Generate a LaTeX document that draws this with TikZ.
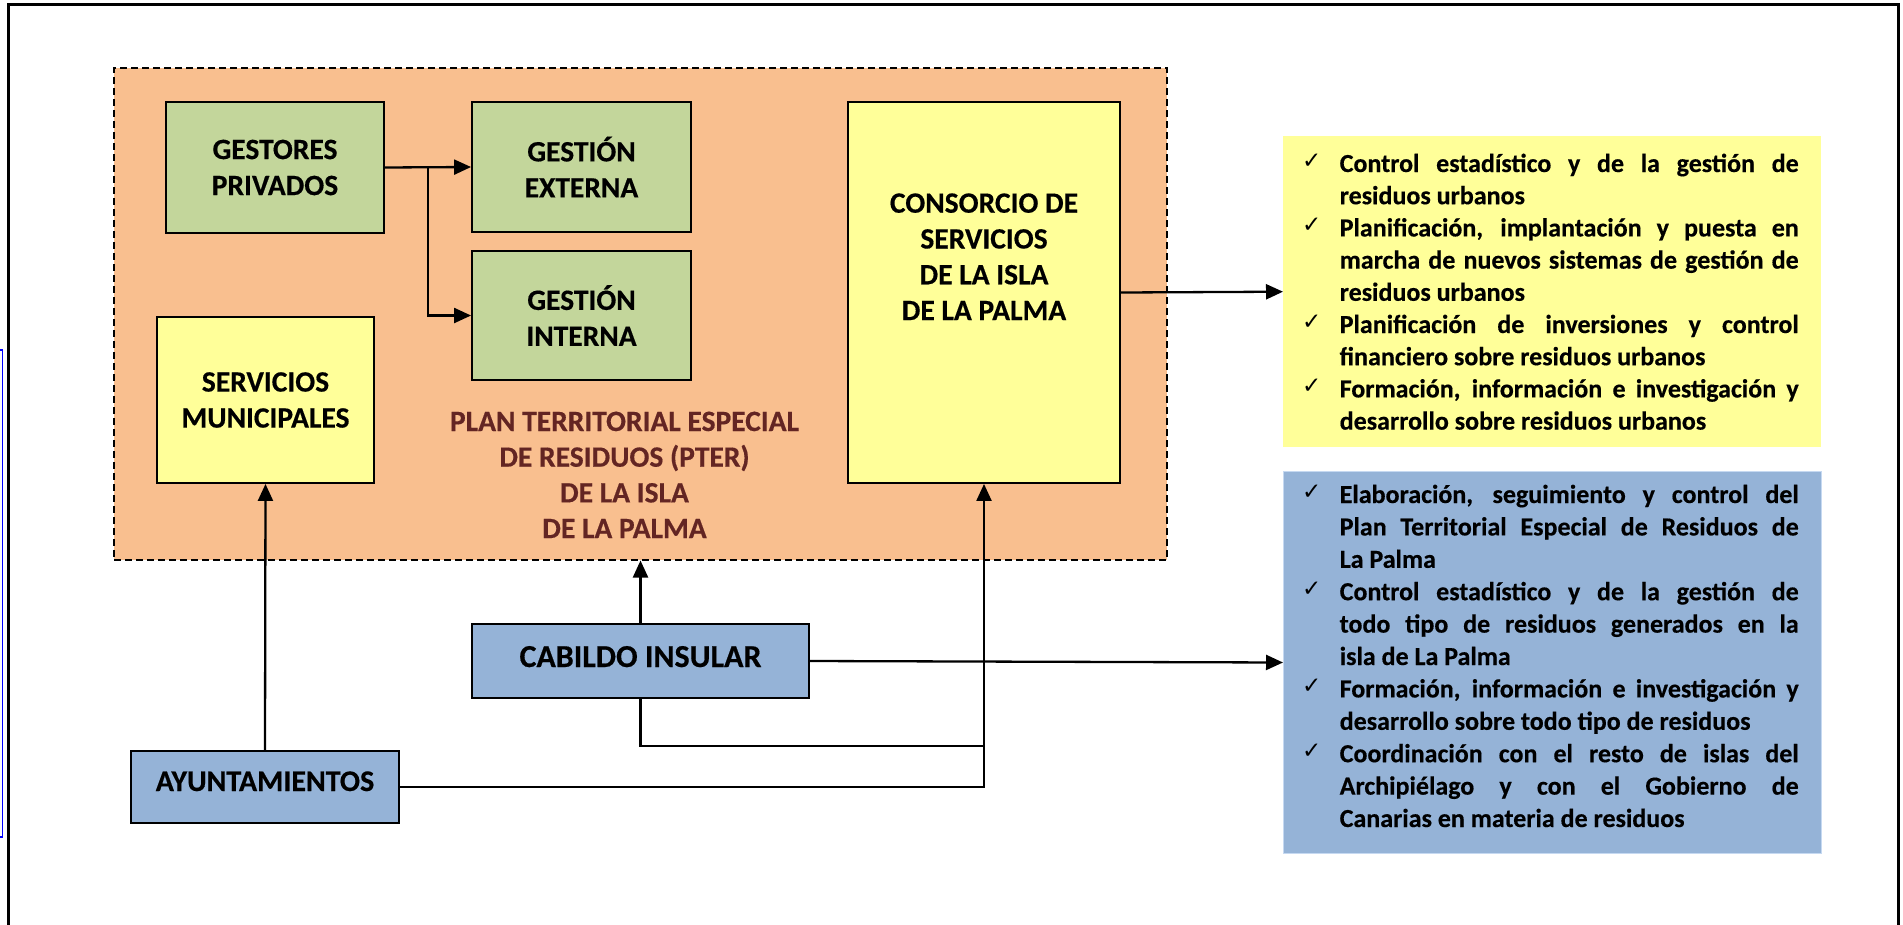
\documentclass[tikz,border=0pt]{standalone}
\usepackage{fontspec}
\setmainfont{Carlito}[BoldFeatures={FakeBold=0.4}]
\newfontfamily\dejavu{DejaVu Sans}
\usetikzlibrary{arrows.meta}
\definecolor{orangebg}{HTML}{F9BF8F}
\definecolor{greenbg}{HTML}{C3D69B}
\definecolor{yellowbg}{HTML}{FFFF99}
\definecolor{bluebg}{HTML}{95B3D7}
\definecolor{bluerim}{HTML}{C6D9F1}
\definecolor{pterred}{HTML}{632523}
\definecolor{pageblue}{HTML}{0000FF}
\newcommand{\ck}{\makebox[37.5pt][l]{\raisebox{4pt}{\dejavu\mdseries\fontsize{23pt}{23pt}\selectfont ✓}}}
\newcommand{\nock}{\hspace*{37.5pt}}
\newcommand{\ljust}[2]{\hbox{#1\makebox[459pt][s]{#2}}}
\newcommand{\lleft}[2]{\hbox{#1#2}}
\begin{document}
\begin{tikzpicture}[x=1pt,y=-1pt,
  box/.style={draw=black, line width=1.9pt, inner sep=0pt, align=center,
    font=\bfseries\fontsize{29.5pt}{36pt}\selectfont},
  boxtext/.style={inner sep=0pt, font=\bfseries\fontsize{30pt}{36pt}\selectfont},
  conn/.style={line width=2.3pt, -{Triangle[length=17pt,width=15pt]}},
  plainline/.style={line width=2.3pt}]
\useasboundingbox (0,0) rectangle (1903,924);
\fill[white] (0,0) rectangle (1903,924);
% page frame and left blue mark
\draw[line width=3pt] (8,960) -- (8,4) -- (1898,4) -- (1898,960);
\draw[pageblue, line width=1.5pt] (-20,350) rectangle (2.5,837);
% PTER region
\node[draw=black, line width=1.5pt, dash pattern=on 7pt off 4pt, fill=orangebg,
  minimum width=1053pt, minimum height=492pt, inner sep=0pt, anchor=north west] (pter) at (113,67) {};
\node[anchor=base, inner sep=0pt, text=pterred] (ptertext) at (624.5,431)
  {\parbox[t]{440pt}{\centering\bfseries\fontsize{29.5pt}{35.7pt}\selectfont
   PLAN TERRITORIAL ESPECIAL\\DE RESIDUOS (PTER)\\DE LA ISLA\\DE LA PALMA}};
% boxes
\node[box, fill=greenbg, minimum width=218pt, minimum height=131pt] (gest) at (275,167.5) {GESTORES\\PRIVADOS};
\node[box, fill=greenbg, minimum width=219pt, minimum height=130pt] (ext) at (581.5,167) {GESTIÓN\\EXTERNA};
\node[box, fill=greenbg, minimum width=219pt, minimum height=129pt] (int) at (581.5,315.5) {GESTIÓN\\INTERNA};
\node[box, fill=yellowbg, minimum width=217pt, minimum height=166pt] (serv) at (265.5,400) {SERVICIOS\\MUNICIPALES};
\node[box, fill=yellowbg, minimum width=272pt, minimum height=381pt] (cons) at (984,292.5) {};
\node[anchor=base, inner sep=0pt] (constext) at (984,212.7)
  {\parbox[t]{260pt}{\centering\bfseries\fontsize{29.5pt}{35.8pt}\selectfont
   CONSORCIO DE\\SERVICIOS\\DE LA ISLA\\DE LA PALMA}};
\node[box, fill=bluebg, minimum width=337pt, minimum height=74pt] (cab) at (640.5,661) {};
\node[anchor=base, inner sep=0pt, font=\bfseries\fontsize{32pt}{36pt}\selectfont] (cabtext) at (640.5,667) {CABILDO INSULAR};
\node[box, fill=bluebg, minimum width=268pt, minimum height=72pt] (ayu) at (265,787) {};
\node[anchor=base, boxtext] (ayutext) at (265,791) {AYUNTAMIENTOS};
% lists
\node[fill=yellowbg, minimum width=538pt, minimum height=311pt, inner sep=0pt, anchor=north west] (ylist) at (1283,136) {};
\node[draw=bluerim, line width=1pt, fill=bluebg, minimum width=538pt, minimum height=382pt, inner sep=0pt, anchor=north west] (blist) at (1283,471) {};
\node[anchor=base west, inner sep=0pt] (ytext) at (1302,172)
  {\parbox[t]{500pt}{\bfseries\fontsize{26pt}{32.2pt}\selectfont
   \ljust{\ck}{Control estadístico y de la gestión de}
   \lleft{\nock}{residuos urbanos}
   \ljust{\ck}{Planificación, implantación y puesta en}
   \ljust{\nock}{marcha de nuevos sistemas de gestión de}
   \lleft{\nock}{residuos urbanos}
   \ljust{\ck}{Planificación de inversiones y control}
   \lleft{\nock}{financiero sobre residuos urbanos}
   \ljust{\ck}{Formación, información e investigación y}
   \lleft{\nock}{desarrollo sobre residuos urbanos}}};
\node[anchor=base west, inner sep=0pt] (btext) at (1302,503)
  {\parbox[t]{500pt}{\bfseries\fontsize{26pt}{32.4pt}\selectfont
   \ljust{\ck}{Elaboración, seguimiento y control del}
   \ljust{\nock}{Plan Territorial Especial de Residuos de}
   \lleft{\nock}{La Palma}
   \ljust{\ck}{Control estadístico y de la gestión de}
   \ljust{\nock}{todo tipo de residuos generados en la}
   \lleft{\nock}{isla de La Palma}
   \ljust{\ck}{Formación, información e investigación y}
   \lleft{\nock}{desarrollo sobre todo tipo de residuos}
   \ljust{\ck}{Coordinación con el resto de islas del}
   \ljust{\nock}{Archipiélago y con el Gobierno de}
   \lleft{\nock}{Canarias en materia de residuos}}};
% connectors
\coordinate (br) at (428,167.5);
\coordinate (cj) at (984,746);
\draw[conn] (gest.east) -- (ext.west);
\draw[conn] (br) |- (int.west);
\draw[conn] (cons.east) -- (ylist.west);
\draw[conn] (ayu.north) -- (serv.south);
\draw[conn] (cab.north) -- (cab.north |- pter.south);
\draw[conn] (cab.east) -- (blist.west);
\draw[plainline] (cab.south) |- (cj);
\draw[conn] (ayu.east) -| (cons.south);
\end{tikzpicture}
\end{document}
